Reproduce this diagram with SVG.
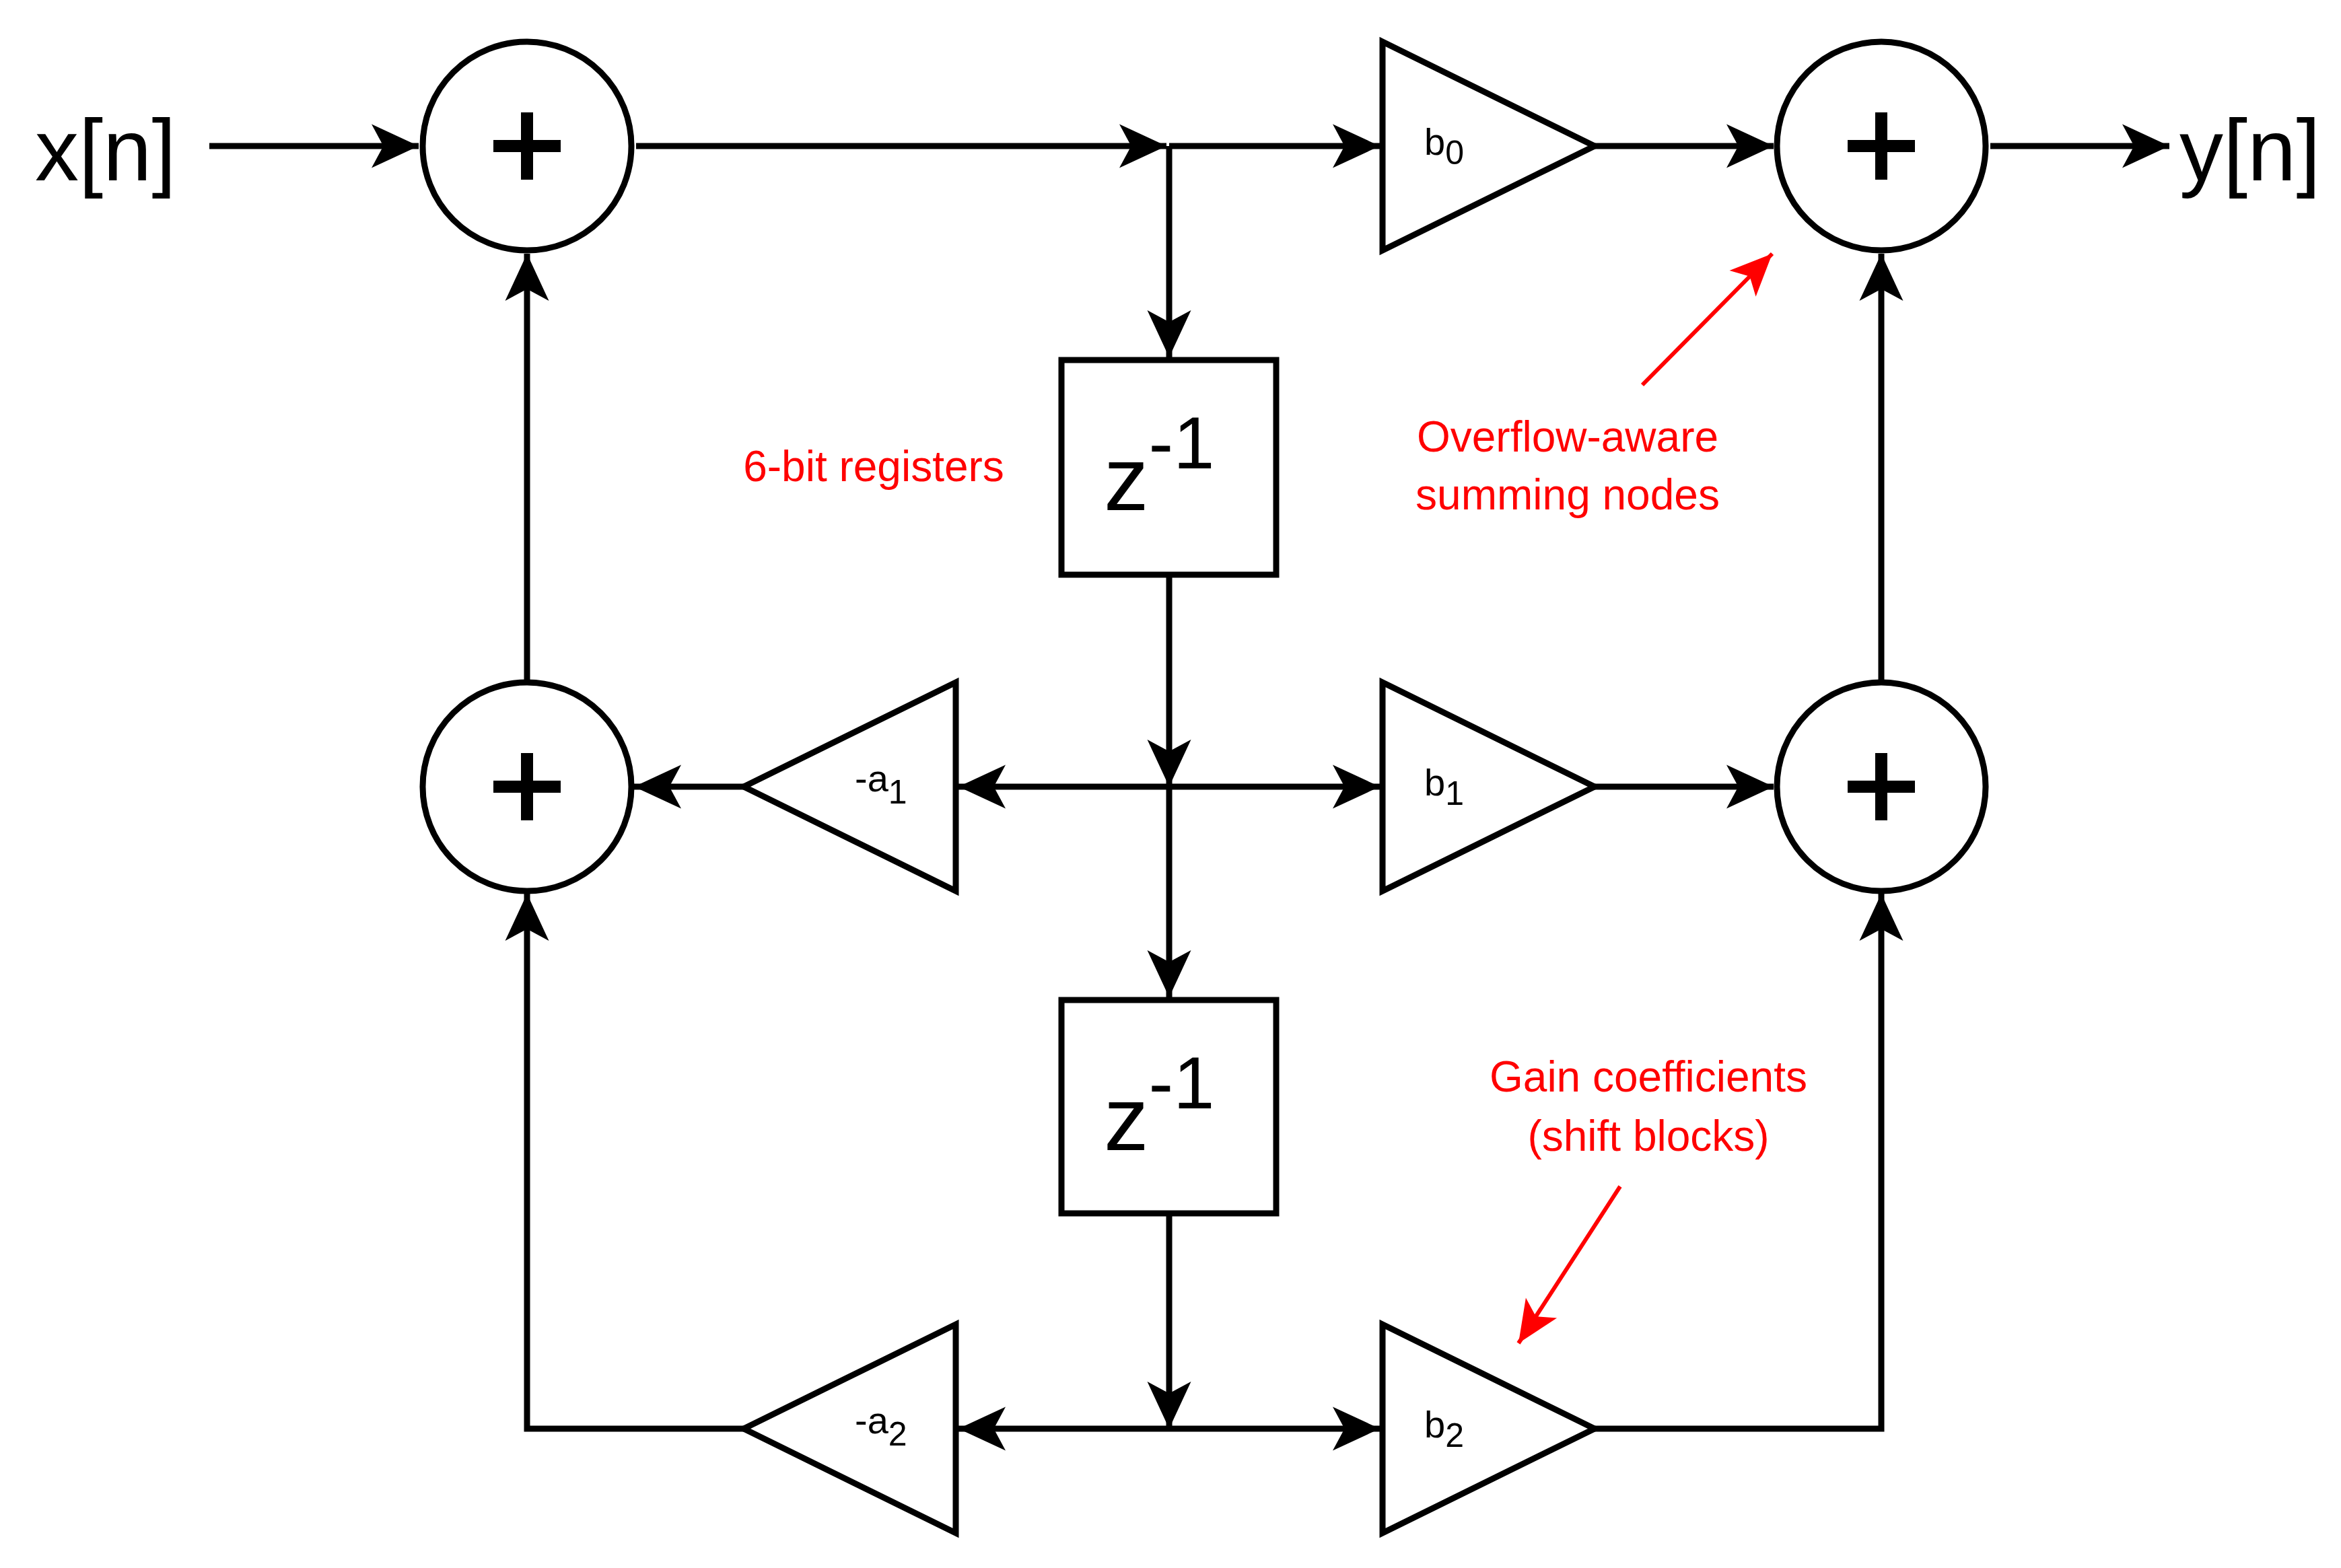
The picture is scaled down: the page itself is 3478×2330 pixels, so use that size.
<svg xmlns="http://www.w3.org/2000/svg" width="3478" height="2330" viewBox="0 0 3478 2330">
<style>
.s{fill:none;stroke:#000;stroke-width:9}
.n{fill:#fff;stroke:#000;stroke-width:9}
.p{stroke:#000;stroke-width:18;fill:none}
.t{font-family:"Liberation Sans",Arial,sans-serif;fill:#000}
.r{font-family:"Liberation Sans",Arial,sans-serif;fill:#f00;font-size:64px;text-anchor:middle}
.ra{stroke:#f00;stroke-width:6;fill:none}
</style>
<defs>
<marker id="a" markerUnits="userSpaceOnUse" markerWidth="80" markerHeight="80" viewBox="-60 -30 64 60" refX="0" refY="0" orient="auto"><path d="M0,0 L-56,-26 L-42,0 L-56,26 Z" fill="#000"/></marker>
<marker id="ar" markerUnits="userSpaceOnUse" markerWidth="80" markerHeight="80" viewBox="-60 -30 64 60" refX="0" refY="0" orient="auto"><path d="M0,0 L-50,-22 L-38,0 L-50,22 Z" fill="#f00"/></marker>
</defs>
<g id="connectors">
<path class="s" d="M311,217 H622" marker-end="url(#a)"/>
<path class="s" d="M945,217 H1733" marker-end="url(#a)"/>
<path class="s" d="M1737,217 H2050" marker-end="url(#a)"/>
<path class="s" d="M2369,217 H2635" marker-end="url(#a)"/>
<path class="s" d="M2957,217 H3223" marker-end="url(#a)"/>
<path class="s" d="M1737,217 V531" marker-end="url(#a)"/>
<path class="s" d="M1737,854 V1169" marker-end="url(#a)"/>
<path class="s" d="M1737,1169 V1482" marker-end="url(#a)"/>
<path class="s" d="M1737,1803 V2123" marker-end="url(#a)"/>
<path class="s" d="M1737,1169 H1424" marker-end="url(#a)"/>
<path class="s" d="M1737,1169 H2050" marker-end="url(#a)"/>
<path class="s" d="M1737,2123 H1424" marker-end="url(#a)"/>
<path class="s" d="M1737,2123 H2050" marker-end="url(#a)"/>
<path class="s" d="M1105,1169 H942" marker-end="url(#a)"/>
<path class="s" d="M2369,1169 H2635" marker-end="url(#a)"/>
<path class="s" d="M783,1014 V377" marker-end="url(#a)"/>
<path class="s" d="M2795,1014 V377" marker-end="url(#a)"/>
<path class="s" d="M1105,2123 H783 V1328" marker-end="url(#a)"/>
<path class="s" d="M2369,2123 H2795 V1328" marker-end="url(#a)"/>
</g>
<g id="sum1"><circle class="n" cx="783" cy="217" r="155"/><path class="p" d="M733,217 H833 M783,167 V267"/></g>
<g id="sum2"><circle class="n" cx="783" cy="1169" r="155"/><path class="p" d="M733,1169 H833 M783,1119 V1219"/></g>
<g id="sum3"><circle class="n" cx="2795" cy="217" r="155"/><path class="p" d="M2745,217 H2845 M2795,167 V267"/></g>
<g id="sum4"><circle class="n" cx="2795" cy="1169" r="155"/><path class="p" d="M2745,1169 H2845 M2795,1119 V1219"/></g>
<g id="delay1"><rect class="n" x="1577" y="535" width="319" height="319"/><text class="t" x="1640" y="758" font-size="133">z<tspan dy="-62" font-size="110">-1</tspan></text></g>
<g id="delay2"><rect class="n" x="1577" y="1486" width="319" height="317"/><text class="t" x="1640" y="1709" font-size="133">z<tspan dy="-62" font-size="110">-1</tspan></text></g>
<g id="b0"><path class="n" d="M2054,62 L2369,217 L2054,372 Z"/><text class="t" x="2116" y="230" font-size="56">b<tspan dy="14" font-size="50">0</tspan></text></g>
<g id="b1"><path class="n" d="M2054,1014 L2369,1169 L2054,1324 Z"/><text class="t" x="2116" y="1182" font-size="56">b<tspan dy="14" font-size="50">1</tspan></text></g>
<g id="b2"><path class="n" d="M2054,1968 L2369,2123 L2054,2278 Z"/><text class="t" x="2116" y="2136" font-size="56">b<tspan dy="14" font-size="50">2</tspan></text></g>
<g id="a1"><path class="n" d="M1420,1014 L1105,1169 L1420,1324 Z"/><text class="t" x="1270" y="1176" font-size="56">-a<tspan dy="18" font-size="50">1</tspan></text></g>
<g id="a2"><path class="n" d="M1420,1968 L1105,2123 L1420,2278 Z"/><text class="t" x="1270" y="2130" font-size="56">-a<tspan dy="18" font-size="50">2</tspan></text></g>
<g id="labels">
<text class="t" x="52" y="268" font-size="130">x[n]</text>
<text class="t" x="3238" y="268" font-size="130">y[n]</text>
<text class="r" x="1298" y="715">6-bit registers</text>
<text class="r" x="2329" y="671">Overflow-aware</text>
<text class="r" x="2329" y="757">summing nodes</text>
<text class="r" x="2449" y="1622">Gain coefficients</text>
<text class="r" x="2449" y="1710">(shift blocks)</text>
<path class="ra" d="M2440,572 L2633,377" marker-end="url(#ar)"/>
<path class="ra" d="M2407,1763 L2256,1996" marker-end="url(#ar)"/>
</g>
</svg>
